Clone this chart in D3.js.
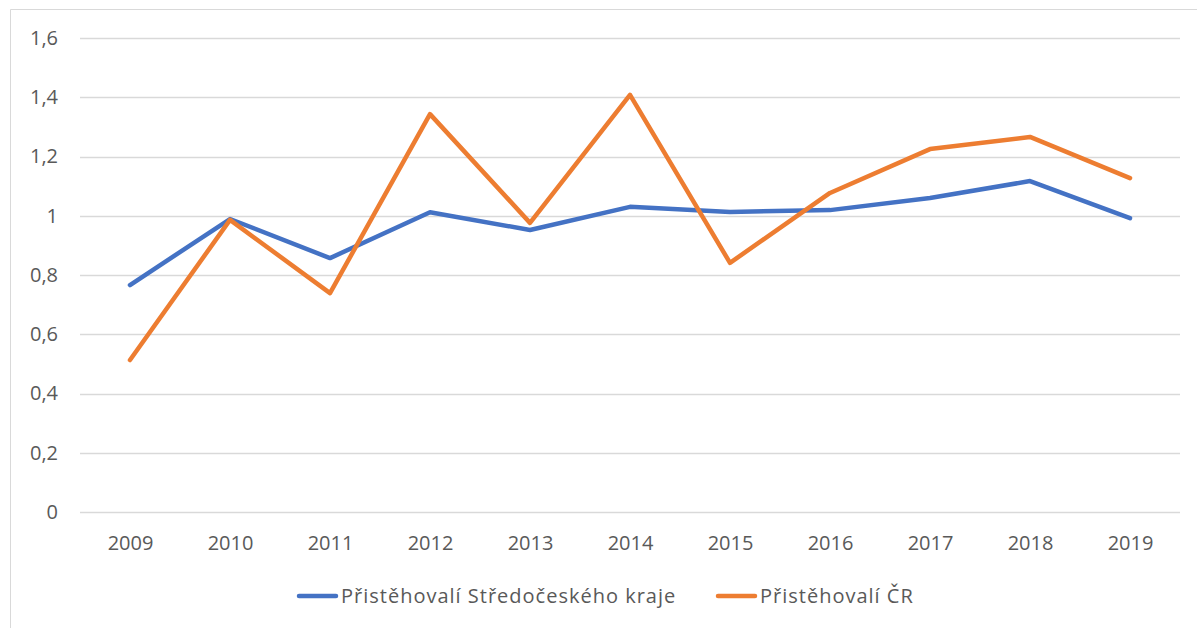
<!DOCTYPE html>
<html><head><meta charset="utf-8">
<script src="https://cdn.jsdelivr.net/npm/d3@7"></script>
<style>body{margin:0;background:#fff}svg{display:block}text{font-family:"Open Sans",sans-serif;fill:#595959}</style>
</head><body>
<svg id="c" width="1197" height="628"></svg>
<script>
const years = ["2009","2010","2011","2012","2013","2014","2015","2016","2017","2018","2019"];
const stredocesky = [0.766,0.989,0.857,1.012,0.952,1.030,1.013,1.019,1.060,1.117,0.992];
const cr = [0.513,0.986,0.739,1.343,0.976,1.408,0.841,1.077,1.225,1.266,1.127];
const yTicks = [0,0.2,0.4,0.6,0.8,1.0,1.2,1.4,1.6];
const seriesNames = ["Přistěhovalí Středočeského kraje","Přistěhovalí ČR"];
const colors = ["#4472C4","#ED7D31"];

const svg = d3.select("#c");
svg.append("path").attr("d","M10.5,628 V9.5 H1197").attr("fill","none").attr("stroke","#d9d9d9").attr("stroke-width",1);

const x = d3.scalePoint().domain(years).range([130,1130]);
const y = d3.scaleLinear().domain([0,1.6]).range([512,38]);
const fmt = v => d3.format("~g")(v).replace(".",",");

svg.append("g").selectAll("line").data(yTicks).join("line")
  .attr("x1",80).attr("x2",1180)
  .attr("y1",d=>Math.round(y(d))+0.5).attr("y2",d=>Math.round(y(d))+0.5)
  .attr("stroke","#d9d9d9").attr("stroke-width",1.3);

const yAxis = svg.append("g").attr("transform","translate(58,0)")
  .call(d3.axisLeft(y).tickValues(yTicks).tickFormat(fmt).tickSize(0).tickPadding(0));
yAxis.select(".domain").remove();
yAxis.selectAll("text").style("font-size","20px").attr("fill","#595959").attr("text-anchor","end");

const xAxis = svg.append("g").attr("transform","translate(0,544)")
  .call(d3.axisBottom(x).tickSize(0).tickPadding(0));
xAxis.select(".domain").remove();
xAxis.selectAll("text").style("font-size","20px").attr("fill","#595959").attr("dy","0.32em");

const line = d3.line().x((d,i)=>x(years[i])).y(d=>y(d));
[stredocesky, cr].forEach((s,k)=>{
  svg.append("path").datum(s).attr("d",line).attr("fill","none")
    .attr("stroke",colors[k]).attr("stroke-width",4.5)
    .attr("stroke-linejoin","round").attr("stroke-linecap","round");
});

const legendX = [299, 718];
seriesNames.forEach((n,k)=>{
  const lg = svg.append("g").attr("transform",`translate(${legendX[k]},596)`);
  lg.append("line").attr("x1",0).attr("x2",37).attr("y1",0).attr("y2",0)
    .attr("stroke",colors[k]).attr("stroke-width",4.5).attr("stroke-linecap","round");
  lg.append("text").attr("x",42).attr("y",0).attr("dy","0.35em").style("font-size","20px").style("letter-spacing","1px").text(n);
});
</script>
</body></html>
